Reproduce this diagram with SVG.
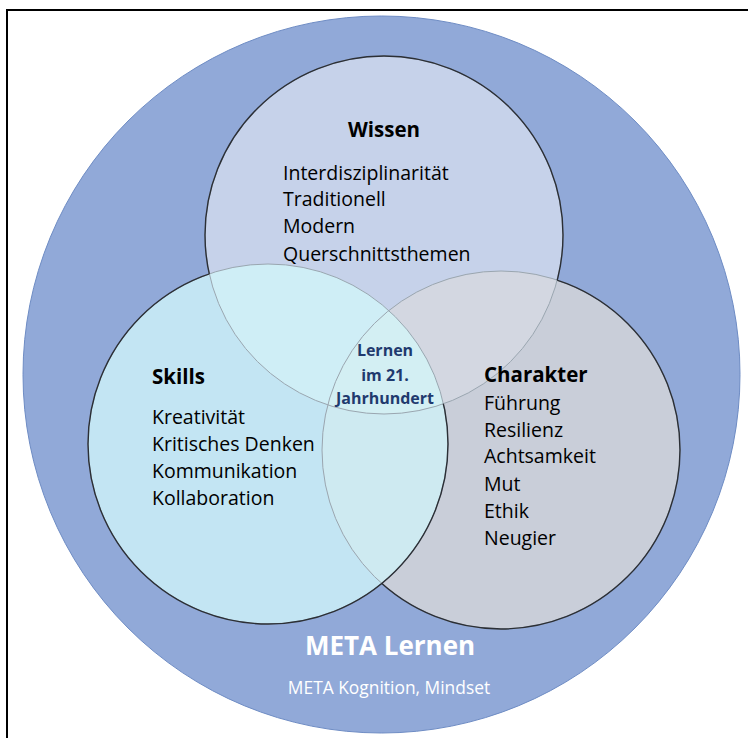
<svg xmlns="http://www.w3.org/2000/svg" width="748" height="738" viewBox="0 0 748 738">
<style>
.t{font-family:"Open Sans",Lato,"Liberation Sans",sans-serif;fill:#000;font-size:19.5px}
.h{font-weight:bold;font-size:20.5px}
.c{font-family:"Open Sans",Lato,"Liberation Sans",sans-serif;font-weight:bold;font-size:16px;fill:#1F3A6E;text-anchor:middle}
.w{font-family:"Open Sans",Lato,"Liberation Sans",sans-serif;fill:#fff;text-anchor:middle}
.dark{fill:none;stroke:#2b2f36;stroke-width:1.4}
.faint{fill:none;stroke:#9aa6b0;stroke-width:1}
</style>
<defs>
<clipPath id="cW"><circle cx="384" cy="235" r="179"/></clipPath>
<clipPath id="cS"><circle cx="268" cy="444" r="180"/></clipPath>
<clipPath id="cC"><circle cx="501" cy="450" r="179"/></clipPath>
<mask id="mW"><rect width="748" height="738" fill="#fff"/><circle cx="268" cy="444" r="180" fill="#000"/><circle cx="501" cy="450" r="179" fill="#000"/></mask>
<mask id="mC"><rect width="748" height="738" fill="#fff"/><circle cx="268" cy="444" r="180" fill="#000"/><circle cx="384" cy="235" r="179" fill="#000"/></mask>
<mask id="mS"><rect width="748" height="738" fill="#fff"/><circle cx="384" cy="235" r="179" fill="#000"/></mask>
</defs>
<rect x="0" y="0" width="748" height="738" fill="#fff"/>
<rect x="7" y="10" width="760" height="760" fill="none" stroke="#000" stroke-width="2"/>
<g id="meta">
<circle cx="381.5" cy="374.5" r="358.5" fill="#91A9D8" stroke="#6E8CC4" stroke-width="1"/>
<text class="w" x="390" y="655" font-size="26" font-weight="bold">META Lernen</text>
<text class="w" x="389" y="694" font-size="17.4">META Kognition, Mindset</text>
</g>
<g id="fills">
<circle cx="384" cy="235" r="179" fill="#C6D2EA"/>
<circle cx="268" cy="444" r="180" fill="#C3E5F3"/>
<circle cx="501" cy="450" r="179" fill="#C9CED9"/>
<circle cx="268" cy="444" r="180" fill="#CFEEF6" clip-path="url(#cW)"/>
<circle cx="501" cy="450" r="179" fill="#D3D7E1" clip-path="url(#cW)"/>
<circle cx="501" cy="450" r="179" fill="#CEEAF1" clip-path="url(#cS)"/>
<g clip-path="url(#cW)"><circle cx="501" cy="450" r="179" fill="#D3EFF3" clip-path="url(#cS)"/></g>
</g>
<g id="connectors">
<circle class="faint" cx="384" cy="235" r="179"/>
<circle class="faint" cx="268" cy="444" r="180"/>
<circle class="faint" cx="501" cy="450" r="179"/>
<circle class="dark" cx="384" cy="235" r="179" mask="url(#mW)"/>
<circle class="dark" cx="501" cy="450" r="179" mask="url(#mC)"/>
<circle class="dark" cx="268" cy="444" r="180" mask="url(#mS)"/>
</g>
<g id="wissen">
<text class="t h" x="384" y="137" text-anchor="middle">Wissen</text>
<text class="t" x="283" y="180">Interdisziplinarität</text>
<text class="t" x="283" y="206">Traditionell</text>
<text class="t" x="283" y="233">Modern</text>
<text class="t" x="283" y="261">Querschnittsthemen</text>
</g>
<g id="skills">
<text class="t h" x="152" y="384">Skills</text>
<text class="t" x="152" y="424">Kreativität</text>
<text class="t" x="152" y="451">Kritisches Denken</text>
<text class="t" x="152" y="478">Kommunikation</text>
<text class="t" x="152" y="505">Kollaboration</text>
</g>
<g id="charakter">
<text class="t h" x="484" y="382">Charakter</text>
<text class="t" x="484" y="410">Führung</text>
<text class="t" x="484" y="437">Resilienz</text>
<text class="t" x="484" y="463">Achtsamkeit</text>
<text class="t" x="484" y="491">Mut</text>
<text class="t" x="484" y="518">Ethik</text>
<text class="t" x="484" y="545">Neugier</text>
</g>
<g id="center">
<text class="c" x="385" y="356">Lernen</text>
<text class="c" x="385" y="381">im 21.</text>
<text class="c" x="385" y="404">Jahrhundert</text>
</g>
</svg>
